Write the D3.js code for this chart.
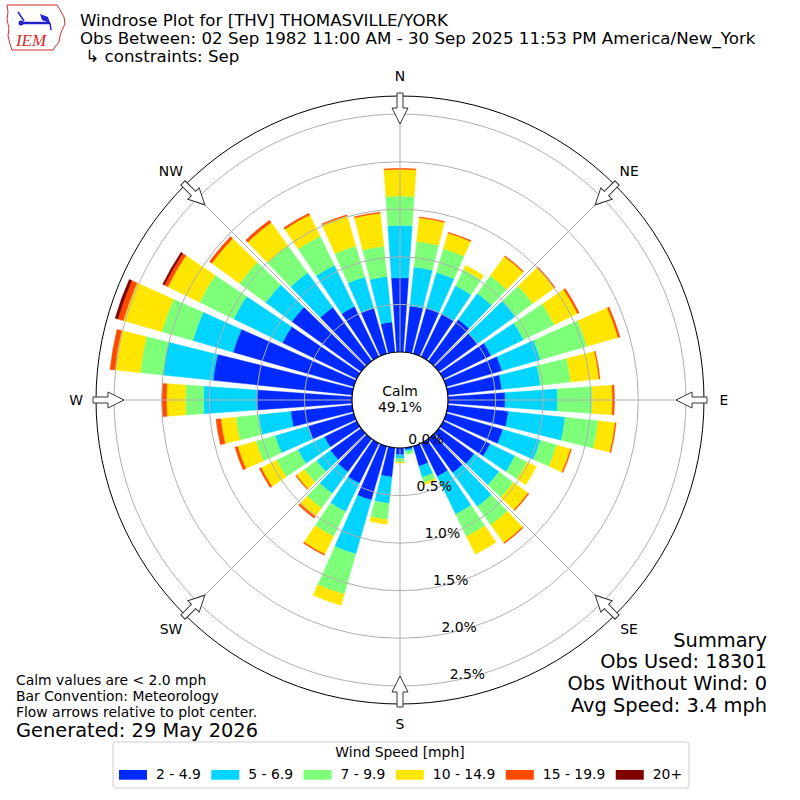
<!DOCTYPE html>
<html>
<head>
<meta charset="utf-8">
<script src="https://cdn.jsdelivr.net/npm/d3@7"></script>
<style>
  body { margin: 0; background: #fff; }
  svg { display: block; font-family: 'DejaVu Sans', sans-serif; }
</style>
</head>
<body>
<svg width="800" height="800"></svg>
<script>
// wind directions (deg, meteorological) and percent of obs per speed bin
const directions = [0, 10, 20, 30, 40, 50, 60, 70, 80, 90, 100, 110, 120, 130, 140, 150, 160, 170,
                    180, 190, 200, 210, 220, 230, 240, 250, 260, 270, 280, 290, 300, 310, 320, 330, 340, 350];

const speed2to5   = [0.78, 0.49, 0.50, 0.50, 0.54, 0.50, 0.56, 0.61, 0.57, 0.60, 0.64, 0.62, 0.55, 0.46, 0.44, 0.39, 0.22, 0.02,
                     0.07, 0.31, 0.59, 0.47, 0.43, 0.40, 0.38, 0.50, 0.65, 1.00, 1.47, 1.32, 0.87, 0.90, 0.70, 0.59, 0.50, 0.32];
const speed5to7   = [0.55, 0.41, 0.39, 0.33, 0.34, 0.49, 0.38, 0.42, 0.41, 0.55, 0.60, 0.41, 0.29, 0.32, 0.44, 0.44, 0.12, 0.02,
                     0.04, 0.28, 0.59, 0.33, 0.28, 0.18, 0.31, 0.36, 0.34, 0.56, 0.53, 0.44, 0.57, 0.34, 0.45, 0.48, 0.34, 0.48];
const speed7to10  = [0.31, 0.27, 0.26, 0.19, 0.23, 0.23, 0.36, 0.51, 0.32, 0.37, 0.35, 0.18, 0.14, 0.19, 0.24, 0.26, 0.06, 0.03,
                     0.04, 0.17, 0.44, 0.29, 0.19, 0.16, 0.25, 0.21, 0.24, 0.19, 0.24, 0.34, 0.40, 0.34, 0.35, 0.34, 0.34, 0.32];
const speed10to15 = [0.28, 0.25, 0.17, 0.05, 0.25, 0.28, 0.27, 0.34, 0.30, 0.21, 0.18, 0.15, 0.11, 0.19, 0.23, 0.21, 0.02, 0.00,
                     0.01, 0.05, 0.12, 0.21, 0.11, 0.10, 0.18, 0.20, 0.16, 0.20, 0.27, 0.42, 0.37, 0.36, 0.30, 0.25, 0.33, 0.35];
const speed15to20 = [0.01, 0.01, 0.01, 0.00, 0.01, 0.01, 0.02, 0.02, 0.01, 0.02, 0.01, 0.01, 0.00, 0.01, 0.01, 0.00, 0.00, 0.00,
                     0.00, 0.00, 0.00, 0.01, 0.02, 0.01, 0.02, 0.03, 0.05, 0.05, 0.05, 0.06, 0.04, 0.03, 0.03, 0.02, 0.01, 0.01];
const speed20up   = [0.00, 0.00, 0.00, 0.00, 0.00, 0.00, 0.00, 0.00, 0.00, 0.00, 0.00, 0.00, 0.00, 0.00, 0.00, 0.00, 0.00, 0.00,
                     0.00, 0.00, 0.00, 0.00, 0.00, 0.00, 0.00, 0.00, 0.00, 0.00, 0.00, 0.03, 0.02, 0.00, 0.00, 0.00, 0.00, 0.00];

const speedBins = ['2 - 4.9', '5 - 6.9', '7 - 9.9', '10 - 14.9', '15 - 19.9', '20+'];
const binColors = ['#002aff', '#00d4ff', '#7dff7a', '#ffe600', '#ff4a00', '#800000'];

const ringTicks = [0, 0.5, 1.0, 1.5, 2.0, 2.5];
const ringLabels = ['0.0%', '0.5%', '1.0%', '1.5%', '2.0%', '2.5%'];
const compassLabels = ['N', 'NE', 'E', 'SE', 'S', 'SW', 'W', 'NW'];
const compassAngles = [0, 45, 90, 135, 180, 225, 270, 315];

const calmPct = 49.1;
const titleLines = [
    'Windrose Plot for [THV] THOMASVILLE/YORK',
    'Obs Between: 02 Sep 1982 11:00 AM - 30 Sep 2025 11:53 PM America/New_York',
    ' \u21b3 constraints: Sep'
];
const noteLines = ['Calm values are < 2.0 mph', 'Bar Convention: Meteorology', 'Flow arrows relative to plot center.'];
const generatedText = 'Generated: 29 May 2026';
const summaryLines = ['Summary', 'Obs Used: 18301', 'Obs Without Wind: 0', 'Avg Speed: 3.4 mph'];

const svg = d3.select('svg');
const cx = 400;
const cy = 400;
const rMaxPct = 2.69;
const rad = (deg) => deg * Math.PI / 180;

const r = d3.scaleLinear().domain([0, rMaxPct]).range([48, 304]);

// stacked table for d3.stack
const binKeys = ['b0', 'b1', 'b2', 'b3', 'b4', 'b5'];
const binSeries = [speed2to5, speed5to7, speed7to10, speed10to15, speed15to20, speed20up];
const rows = directions.map((dir, i) => {
    const row = {dir: dir};
    binKeys.forEach((k, j) => { row[k] = binSeries[j][i]; });
    return row;
});
const stacked = d3.stack().keys(binKeys)(rows);

const plot = svg.append('g').attr('transform', `translate(${cx},${cy})`);

const barArc = d3.arc()
    .innerRadius(d => r(d[0]))
    .outerRadius(d => r(d[1]))
    .startAngle(d => rad(d.data.dir - 4))
    .endAngle(d => rad(d.data.dir + 4));

plot.selectAll('g.bin')
    .data(stacked)
    .join('g')
    .attr('class', 'bin')
    .attr('fill', (d, i) => binColors[i])
    .attr('stroke', (d, i) => binColors[i])
    .attr('stroke-width', 0.4)
    .selectAll('path')
    .data(d => d.filter(s => s[1] - s[0] > 0))
    .join('path')
    .attr('d', barArc);

// grid on top of bars
plot.selectAll('line.spoke')
    .data(compassAngles)
    .join('line')
    .attr('x1', 0).attr('y1', 0)
    .attr('x2', d => r(rMaxPct) * Math.sin(rad(d)))
    .attr('y2', d => -r(rMaxPct) * Math.cos(rad(d)))
    .attr('stroke', '#b0b0b0')
    .attr('stroke-width', 1);

plot.selectAll('circle.ring')
    .data(ringTicks.slice(1))
    .join('circle')
    .attr('r', d => r(d))
    .attr('fill', 'none')
    .attr('stroke', '#b0b0b0')
    .attr('stroke-width', 1);

plot.append('circle')
    .attr('r', r(rMaxPct))
    .attr('fill', 'none')
    .attr('stroke', '#000')
    .attr('stroke-width', 1);

// calm hole
plot.append('circle')
    .attr('r', r(0))
    .attr('fill', '#fff')
    .attr('stroke', '#000')
    .attr('stroke-width', 1.2);

plot.append('text')
    .attr('x', 0).attr('y', -4)
    .attr('text-anchor', 'middle')
    .attr('font-size', 13.9)
    .text('Calm');
plot.append('text')
    .attr('x', 0).attr('y', 12)
    .attr('text-anchor', 'middle')
    .attr('font-size', 13.9)
    .text(calmPct.toFixed(1) + '%');

// radial tick labels along 170 deg
const labelAngle = rad(170);
plot.selectAll('text.rlabel')
    .data(ringTicks)
    .join('text')
    .attr('x', d => r(d) * Math.sin(labelAngle))
    .attr('y', d => -r(d) * Math.cos(labelAngle) - 3)
    .attr('font-size', 13.9)
    .text((d, i) => ringLabels[i]);

// compass labels
plot.selectAll('text.compass')
    .data(compassAngles)
    .join('text')
    .attr('x', d => 324 * Math.sin(rad(d)))
    .attr('y', d => -324 * Math.cos(rad(d)))
    .attr('text-anchor', 'middle')
    .attr('dominant-baseline', 'central')
    .attr('font-size', 13.9)
    .text((d, i) => compassLabels[i]);

// hollow flow arrows pointing to center
const arrowPath = 'M-3,-307 L3,-307 L3,-292 L8,-292 L0,-276 L-8,-292 L-3,-292 Z';
plot.selectAll('path.arrow')
    .data(compassAngles)
    .join('path')
    .attr('d', arrowPath)
    .attr('transform', d => `rotate(${d})`)
    .attr('fill', '#fff')
    .attr('stroke', '#333')
    .attr('stroke-width', 1);

// titles
svg.selectAll('text.title')
    .data(titleLines)
    .join('text')
    .attr('x', 80)
    .attr('y', (d, i) => [26, 43.5, 62][i])
    .attr('font-size', 16.67)
    .style('white-space', 'pre')
    .text(d => d);

// IEM logo
const logo = svg.append('g');
logo.append('path')
    .attr('d', 'M7,5 L57,5 L60,10 L64,17 L65,24 L62,30 L60,36 L59,42 L55,47 L53,50 L12,50 L10,44 L8,36 L9,28 L7,20 L8,12 Z')
    .attr('fill', 'none')
    .attr('stroke', '#d42a2a')
    .attr('stroke-width', 1);
logo.append('line')
    .attr('x1', 21).attr('y1', 23).attr('x2', 50).attr('y2', 23)
    .attr('stroke', '#2222cc').attr('stroke-width', 2.5);
logo.append('circle').attr('cx', 21).attr('cy', 23).attr('r', 2.5).attr('fill', '#2222cc');
logo.append('line')
    .attr('x1', 18).attr('y1', 12).attr('x2', 24).attr('y2', 21)
    .attr('stroke', '#2222cc').attr('stroke-width', 1.5);
logo.append('path')
    .attr('d', 'M40,14 L48,17 L50,23 L42,20 Z')
    .attr('fill', '#2222cc');
logo.append('line')
    .attr('x1', 50).attr('y1', 23).attr('x2', 51).attr('y2', 30)
    .attr('stroke', '#2222cc').attr('stroke-width', 1.5);
logo.append('text')
    .attr('x', 31).attr('y', 46)
    .attr('text-anchor', 'middle')
    .attr('font-family', "'Liberation Serif', serif")
    .attr('font-style', 'italic')
    .attr('font-size', 17)
    .attr('fill', '#d42a2a')
    .text('IEM');

// notes bottom-left
svg.selectAll('text.note')
    .data(noteLines)
    .join('text')
    .attr('x', 16)
    .attr('y', (d, i) => 685 + i * 16)
    .attr('font-size', 13.9)
    .text(d => d);
svg.append('text')
    .attr('x', 16).attr('y', 737)
    .attr('font-size', 19.4)
    .text(generatedText);

// summary bottom-right
svg.selectAll('text.summary')
    .data(summaryLines)
    .join('text')
    .attr('x', 767)
    .attr('y', (d, i) => 646.7 + i * 21.7)
    .attr('text-anchor', 'end')
    .attr('font-size', 19.4)
    .text(d => d);

// legend
const legend = svg.append('g');
legend.append('rect')
    .attr('x', 113).attr('y', 742)
    .attr('width', 576).attr('height', 46)
    .attr('rx', 3)
    .attr('fill', '#fff')
    .attr('stroke', '#cccccc')
    .attr('stroke-width', 1);
legend.append('text')
    .attr('x', 400).attr('y', 757)
    .attr('text-anchor', 'middle')
    .attr('font-size', 13.9)
    .text('Wind Speed [mph]');

let lx = 119;
speedBins.forEach((label, i) => {
    legend.append('rect')
        .attr('x', lx).attr('y', 770)
        .attr('width', 28).attr('height', 9.7)
        .attr('fill', binColors[i]);
    const t = legend.append('text')
        .attr('x', lx + 37).attr('y', 779)
        .attr('font-size', 13.9)
        .text(label);
    lx += 37 + t.node().getComputedTextLength() + 10.5;
});
</script>
</body>
</html>
